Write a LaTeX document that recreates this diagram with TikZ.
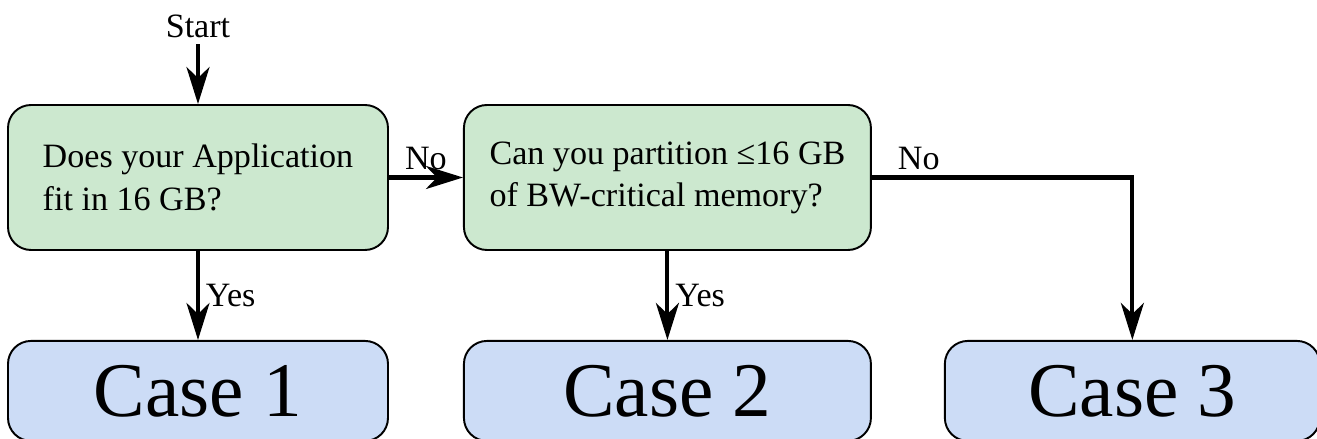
\documentclass[tikz,border=0pt]{standalone}
\usepackage{fontspec}
\setmainfont{Liberation Serif}
\usetikzlibrary{arrows.meta, positioning}

\definecolor{qgreen}{RGB}{204,232,207}
\definecolor{cblue}{RGB}{204,220,246}

\begin{document}
\begin{tikzpicture}[node distance=1.48cm, thick,
    every node/.style={font=\fontsize{19.4}{24}\selectfont},
    question/.style={draw, rounded corners=0.46cm, fill=qgreen, line width=1.1pt,
        minimum height=2.9cm, align=left},
    case/.style={draw, rounded corners=0.46cm, fill=cblue, line width=1.1pt,
        minimum height=2cm, font=\fontsize{44}{50}\selectfont},
    flow/.style={line width=2.3pt, -{Stealth[length=0.74cm, width=0.46cm, inset=0.22cm]}}]

    \useasboundingbox (-3.96,3.55) rectangle (22.38,-5.23);

    %Nodes
    \node[question, minimum width=7.6cm] (fit) at (0,0) {Does your Application\\fit in 16 GB?};
    \node[question, minimum width=8.14cm] (part) [right=of fit] {Can you partition ≤16 GB\\of BW-critical memory?};
    \node (start) [above=1.2cm of fit] {Start};
    \node[case, minimum width=7.6cm] (c1) [below=1.78cm of fit] {Case 1};
    \node[case, minimum width=8.14cm] (c2) [below=1.78cm of part] {Case 2};
    \node[case, minimum width=7.5cm] (c3) [right=1.44cm of c2] {Case 3};

    % Edges
    \draw[flow] (start) to (fit);
    \draw[flow] (fit) to node[midway, above] {No} (part);
    \draw[flow] (fit) to node[midway, right] {Yes} (c1);
    \draw[flow] (part) to node[midway, right] {Yes} (c2);
    \draw[flow] (part.east) -| node[pos=0.09, above] {No} (c3.north);

\end{tikzpicture}
\end{document}
